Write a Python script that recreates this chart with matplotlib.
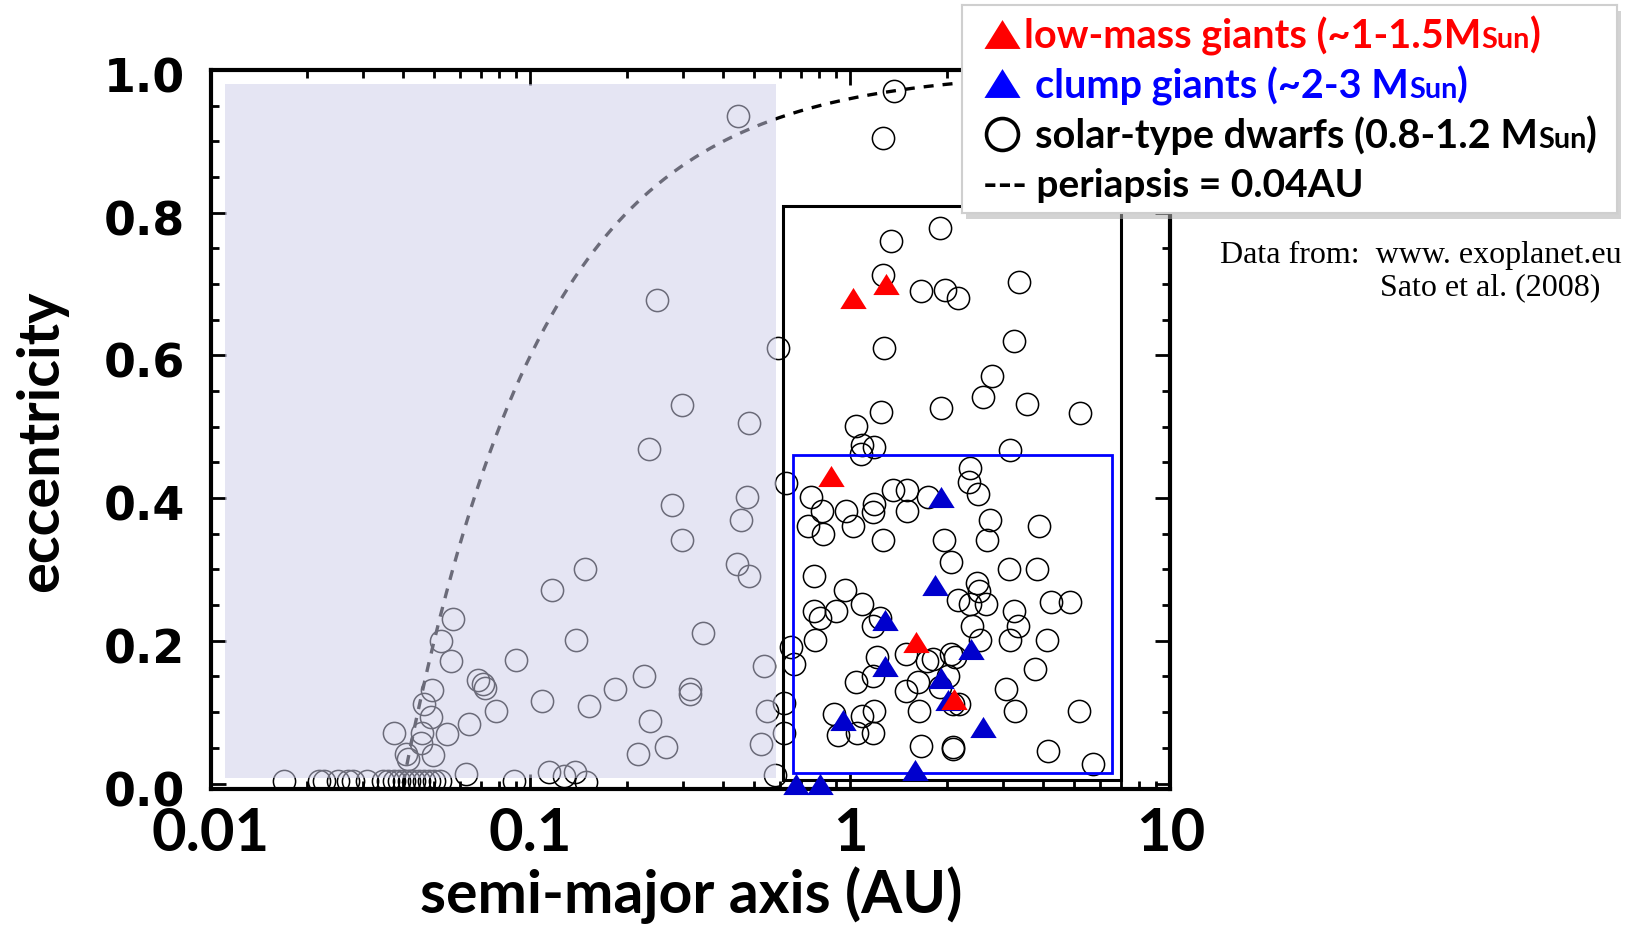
import numpy as np
import matplotlib
matplotlib.use('Agg')
import matplotlib.pyplot as plt
from matplotlib import font_manager as fm
from matplotlib.patches import Rectangle
from matplotlib.ticker import FixedLocator, LogLocator, MultipleLocator, NullFormatter, FixedFormatter
from matplotlib.transforms import ScaledTranslation

# ---------------- data ----------------
# solar-type dwarfs: semi-major axis (AU), eccentricity
dwarf_a = [0.444, 0.248, 0.592, 0.297, 0.483, 0.235, 0.474, 0.455, 0.277, 0.297,
           0.443, 0.483, 0.148, 0.117, 0.345, 0.139, 0.0901, 0.538, 0.226, 0.184,
           0.315, 0.315, 0.109, 0.152, 0.0778, 0.550, 0.525, 0.237, 0.266, 0.217,
           0.582, 0.114, 0.127, 0.138, 0.149, 0.0888, 0.0571, 0.0525, 0.0563, 0.0687,
           0.0708, 0.0722, 0.0493, 0.0464, 0.0489, 0.0375, 0.0458, 0.0547, 0.0641, 0.0455,
           0.0407, 0.0495, 0.0413, 0.0629,
           0.01697, 0.02183, 0.02263, 0.02503, 0.02690, 0.02788, 0.03084, 0.03460, 0.03587,
           0.03745, 0.03882, 0.04024, 0.04171, 0.04324, 0.04482, 0.04646, 0.04816, 0.04993,
           0.05213,
           0.629, 0.652, 0.667, 0.621, 0.621,
           1.367, 1.266, 1.904, 1.335, 1.266, 1.661, 1.974, 2.173, 3.355, 1.273,
           3.250, 2.774, 2.589, 3.568, 5.214, 1.918, 1.245, 1.040, 1.086, 1.187,
           1.078, 3.151, 2.363, 2.351, 2.508,
           0.751, 0.813, 0.738, 0.819, 0.968, 1.016, 1.187, 1.178, 1.355, 1.498,
           1.505, 1.743, 2.729, 2.677, 3.890, 1.266, 1.960, 2.061, 3.135, 3.818,
           0.771, 0.961, 2.479, 2.525, 2.173, 2.363, 2.651, 1.089, 0.769, 0.803,
           0.901, 1.236, 1.173, 3.243, 3.345, 4.223, 4.852, 2.403, 2.539, 3.151,
           4.121, 0.775, 1.207, 1.488, 1.730, 1.814, 2.056, 2.121, 3.772, 1.040,
           1.178, 1.622, 1.904, 2.021, 1.488, 3.055, 2.086, 2.184, 1.633, 3.267,
           5.188, 0.888, 1.089, 1.184, 0.912, 1.046, 1.173, 1.657, 2.086, 2.086,
           4.133, 5.714]
dwarf_e = [0.935, 0.677, 0.611, 0.530, 0.505, 0.469, 0.402, 0.370, 0.391, 0.341,
           0.308, 0.291, 0.301, 0.271, 0.211, 0.201, 0.173, 0.165, 0.151, 0.132,
           0.132, 0.125, 0.116, 0.108, 0.101, 0.101, 0.056, 0.088, 0.051, 0.041,
           0.012, 0.016, 0.011, 0.016, 0.002, 0.003, 0.231, 0.200, 0.172, 0.145,
           0.140, 0.134, 0.131, 0.112, 0.093, 0.071, 0.071, 0.069, 0.083, 0.057,
           0.042, 0.040, 0.034, 0.014,
           0.003, 0.003, 0.003, 0.003, 0.003, 0.003, 0.003, 0.003, 0.003,
           0.003, 0.003, 0.003, 0.003, 0.003, 0.003, 0.003, 0.003, 0.003,
           0.003,
           0.421, 0.192, 0.168, 0.113, 0.071,
           0.971, 0.904, 0.778, 0.760, 0.713, 0.690, 0.691, 0.681, 0.703, 0.611,
           0.620, 0.571, 0.541, 0.532, 0.519, 0.526, 0.521, 0.501, 0.474, 0.472,
           0.462, 0.467, 0.442, 0.423, 0.406,
           0.401, 0.382, 0.361, 0.350, 0.382, 0.361, 0.392, 0.381, 0.411, 0.411,
           0.382, 0.401, 0.370, 0.341, 0.361, 0.341, 0.341, 0.311, 0.300, 0.300,
           0.291, 0.271, 0.281, 0.270, 0.257, 0.251, 0.251, 0.251, 0.242, 0.232,
           0.242, 0.232, 0.221, 0.242, 0.221, 0.254, 0.254, 0.221, 0.201, 0.201,
           0.201, 0.201, 0.178, 0.181, 0.172, 0.174, 0.182, 0.177, 0.161, 0.142,
           0.151, 0.142, 0.135, 0.151, 0.130, 0.133, 0.111, 0.111, 0.102, 0.102,
           0.101, 0.098, 0.094, 0.102, 0.068, 0.071, 0.071, 0.052, 0.051, 0.049,
           0.045, 0.027]

# low-mass giants (~1-1.5 Msun)
lowmass_a = [1.016, 1.291, 0.867, 1.602, 2.110]
lowmass_e = [0.680, 0.700, 0.431, 0.199, 0.119]

# clump giants (~2-3 Msun)
clump_a = [1.918, 1.836, 1.282, 2.375, 1.282, 1.918, 2.017, 0.945, 2.589, 1.590, 0.676, 0.803]
clump_e = [0.401, 0.278, 0.229, 0.188, 0.165, 0.148, 0.117, 0.089, 0.079, 0.019, 0.0, 0.0]

# highlighted regions (a_min, a_max, e_min, e_max)
shade_box = (0.0111, 0.585, 0.0077, 0.981)
black_box = (0.615, 7.00, 0.005, 0.809)
blue_box = (0.661, 6.57, 0.0147, 0.460)

periapsis = 0.04  # AU

x_ticks = [0.01, 0.1, 1, 10]
x_ticklabels = ['0.01', '0.1', '1', '10']
y_ticks = [0.0, 0.2, 0.4, 0.6, 0.8, 1.0]
y_ticklabels = ['0.0', '0.2', '0.4', '0.6', '0.8', '1.0']

# ---------------- fonts ----------------
names = {f.name for f in fm.fontManager.ttflist}
SANS = 'Lato' if 'Lato' in names else 'DejaVu Sans'
SERIF = 'Liberation Serif' if 'Liberation Serif' in names else 'DejaVu Serif'

RED = '#FF0000'
BLUE = '#0000CD'
TRI = [(-1.0, -0.8), (1.0, -0.8), (0.0, 0.8), (-1.0, -0.8)]

W, H = 1631, 925
fig = plt.figure(figsize=(W / 100, H / 100), dpi=100)
ax = fig.add_axes([210.5 / W, 1 - 789 / H, 960 / W, 719 / H])
ax.set_xscale('log')
ax.set_xlim(0.01, 10)
ax.set_ylim(-0.0077, 1.0)

# dwarfs (all drawn in black; the translucent panel greys those behind it)
ax.plot(dwarf_a, dwarf_e, linestyle='none', marker='o', ms=16, mfc='none',
        mec='black', mew=1.1, zorder=2)

# periapsis curve e = 1 - q/a
a_curve = np.geomspace(periapsis, 10, 500)
ax.plot(a_curve, 1 - periapsis / a_curve, color='black', lw=2.4,
        linestyle=(0, (3, 2.7)), zorder=2)

# translucent lavender panel
ax.add_patch(Rectangle((shade_box[0], shade_box[2]), shade_box[1] - shade_box[0],
                       shade_box[3] - shade_box[2], facecolor='#CECEE9', alpha=0.52,
                       edgecolor='none', zorder=3))
# boxes
ax.add_patch(Rectangle((black_box[0], black_box[2]), black_box[1] - black_box[0],
                       black_box[3] - black_box[2], facecolor='none', edgecolor='black',
                       lw=2.2, zorder=4))
ax.add_patch(Rectangle((blue_box[0], blue_box[2]), blue_box[1] - blue_box[0],
                       blue_box[3] - blue_box[2], facecolor='none', edgecolor='#0000FF',
                       lw=2.0, zorder=4))

# giants
ax.plot(clump_a, clump_e, linestyle='none', marker=TRI, ms=19, mfc=BLUE, mec='none',
        zorder=5, clip_on=False)
ax.plot(lowmass_a, lowmass_e, linestyle='none', marker=TRI, ms=19, mfc=RED, mec='none',
        zorder=6, clip_on=False)

# axes styling
for s in ax.spines.values():
    s.set_linewidth(3)
ax.xaxis.set_major_locator(FixedLocator(x_ticks))
ax.xaxis.set_major_formatter(FixedFormatter(x_ticklabels))
ax.xaxis.set_minor_locator(LogLocator(base=10, subs=np.arange(2, 10)))
ax.xaxis.set_minor_formatter(NullFormatter())
ax.yaxis.set_major_locator(FixedLocator(y_ticks))
ax.yaxis.set_major_formatter(FixedFormatter(y_ticklabels))
ax.yaxis.set_minor_locator(MultipleLocator(0.05))
ax.tick_params(which='both', direction='in', top=True, right=True, width=2)
ax.tick_params(which='major', length=11)
ax.tick_params(which='minor', length=5.5)
ax.tick_params(axis='y', which='major', pad=18)
ax.tick_params(axis='x', which='major', pad=13)
for lbl in ax.get_xticklabels():
    lbl.set_fontfamily(SANS)
    lbl.set_fontweight('bold')
    lbl.set_fontsize(43)
yoff = ScaledTranslation(0, -5 / 100, fig.dpi_scale_trans)
for lbl in ax.get_yticklabels():
    lbl.set_fontfamily('DejaVu Sans')
    lbl.set_fontweight('bold')
    lbl.set_fontsize(33)
    lbl.set_transform(lbl.get_transform() + yoff)

fig.text(691 / W, 1 - 895 / H, 'semi-major axis (AU)', ha='center', va='center',
         family=SANS, weight='bold', fontsize=42.5)
fig.text(42 / W, 1 - 441 / H, 'eccentricity', ha='center', va='center', rotation=90,
         family=SANS, weight='bold', fontsize=41.5)

# source note
fig.text(1220 / W, 1 - 263 / H, 'Data from:  www. exoplanet.eu', ha='left', va='baseline',
         family=SERIF, fontsize=23)
fig.text(1380 / W, 1 - 295 / H, 'Sato et al. (2008)', ha='left', va='baseline',
         family=SERIF, fontsize=23)

# ---------------- legend box ----------------
LX0, LY0, LW, LH = 962, 5, 655, 208
fig.patches.append(Rectangle(((LX0 + 4) / W, 1 - (LY0 + LH + 6) / H), LW / W, LH / H,
                             transform=fig.transFigure, facecolor='#b0b0b0', alpha=0.55,
                             edgecolor='none', zorder=8))
lax = fig.add_axes([LX0 / W, 1 - (LY0 + LH) / H, LW / W, LH / H], zorder=10)
lax.set_xlim(0, LW)
lax.set_ylim(LH, 0)
lax.set_xticks([])
lax.set_yticks([])
lax.set_facecolor('white')
for s in lax.spines.values():
    s.set_color('#cfcfcf')
    s.set_linewidth(1.5)

lax.plot([40], [28.5], marker=TRI, ms=26, mfc=RED, mec='none', linestyle='none')
lax.plot([40], [78], marker=TRI, ms=26, mfc='#0000FF', mec='none', linestyle='none')
lax.plot([40], [129], marker='o', ms=23, mfc='none', mec='black', mew=2.6, linestyle='none')

LFS = 28.5
legend_lines = [
    (62, 43, 'low-mass giants (~1-1.5M', RED),
    (73, 93, 'clump giants (~2-3 M', '#0000FF'),
    (73, 143, 'solar-type dwarfs (0.8-1.2 M', 'black'),
]
main_texts = []
for x, y, s, c in legend_lines:
    t = lax.text(x, y, s, color=c, family=SANS, weight='bold', fontsize=LFS,
                 ha='left', va='baseline')
    main_texts.append((t, y, c))
lax.text(21, 192, '--- periapsis = 0.04AU', color='black', family=SANS, weight='bold',
         fontsize=28, ha='left', va='baseline')

fig.canvas.draw()
inv = lax.transData.inverted()
for t, y, c in main_texts:
    bb = t.get_window_extent()
    xe = inv.transform((bb.x1, bb.y0))[0]
    t2 = lax.text(xe, y, 'Sun', color=c, family=SANS, weight='bold', fontsize=LFS * 0.73,
                  ha='left', va='baseline')
    fig.canvas.draw()
    bb2 = t2.get_window_extent()
    xe2 = inv.transform((bb2.x1, bb2.y0))[0]
    lax.text(xe2, y, ')', color=c, family=SANS, weight='bold', fontsize=LFS,
             ha='left', va='baseline')

fig.savefig('out.png', dpi=100)
